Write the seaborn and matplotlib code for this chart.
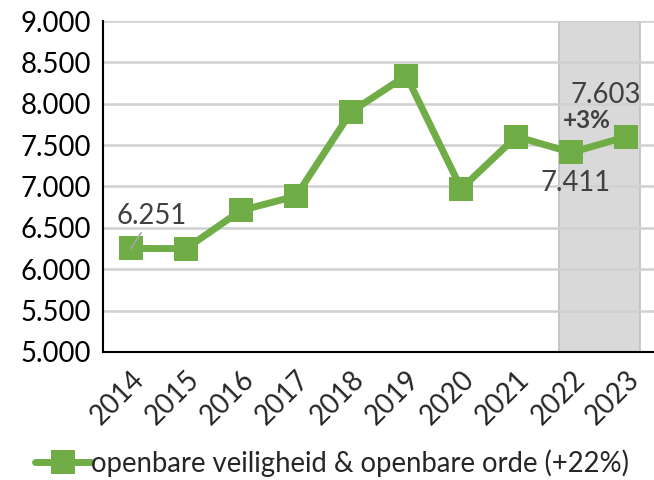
import matplotlib
matplotlib.use("Agg")
import matplotlib.pyplot as plt
import seaborn as sns
import pandas as pd
import numpy as np

years = ["2014", "2015", "2016", "2017", "2018", "2019", "2020", "2021", "2022", "2023"]
values = [6251, 6248, 6710, 6884, 7904, 8341, 6973, 7604, 7411, 7603]
series_name = "openbare veiligheid & openbare orde (+22%)"
yticks = [5000, 5500, 6000, 6500, 7000, 7500, 8000, 8500, 9000]

sns.set_style("white")
plt.rcParams['font.family'] = ['Lato', 'DejaVu Sans']

GREEN = "#70AD47"
FS = 19.8
df = pd.DataFrame({"pos": np.arange(len(years)), "value": values, "serie": series_name})

fig = plt.figure(figsize=(6.54, 4.8), dpi=100)
ax = fig.add_axes([0.158, 0.267, 0.842, 0.689])

# shaded region
ax.axvspan(7.78, 9.24, ymin=0, ymax=1, facecolor="#D9D9D9", edgecolor="#BFBFBF", lw=1.2, zorder=0)

sns.lineplot(data=df, x="pos", y="value", hue="serie", palette=[GREEN], marker="s",
             markersize=17.5, markeredgewidth=0, linewidth=5, ax=ax, zorder=3)

ax.set_xlim(-0.5, len(years) - 0.5)
ax.set_ylim(5000, 9000)
ax.set_yticks(yticks)
ax.set_yticklabels([f"{v/1000:.3f}" for v in yticks], fontsize=FS, color="black")
ax.yaxis.grid(True, color="#D0D0D0", lw=1.8)
ax.set_axisbelow(True)

ax.set_xticks(np.arange(len(years)))
ax.set_xticklabels(years, rotation=45, ha="right", va="top", rotation_mode="anchor", fontsize=FS)
ax.set_xticks(np.arange(len(years) + 1) - 0.5, minor=True)
ax.tick_params(axis="x", which="major", length=0, pad=10)
ax.tick_params(axis="x", which="minor", length=8, width=1.5, color="black", direction="out")
ax.tick_params(axis="y", length=6, width=1.5, color="black", direction="out", pad=3)
ax.set_xlabel("")
ax.set_ylabel("")

for s in ["top", "right"]:
    ax.spines[s].set_visible(False)
for s in ["left", "bottom"]:
    ax.spines[s].set_color("black")
    ax.spines[s].set_linewidth(1.5)

lbl = "#404040"
ax.annotate(f"{values[0]/1000:.3f}", xy=(0, values[0]), xytext=(15, 23), textcoords="offset points",
            ha="center", va="center", fontsize=FS, color=lbl,
            arrowprops=dict(arrowstyle="-", color="#A6A6A6", lw=1.2, shrinkA=0, shrinkB=0),
            zorder=5)
ax.annotate(f"{values[8]/1000:.3f}", xy=(8, values[8]), xytext=(3, -22), textcoords="offset points",
            ha="center", va="center", fontsize=FS, color=lbl, zorder=5)
ax.annotate(f"{values[9]/1000:.3f}", xy=(9, values[9]), xytext=(-15, 30), textcoords="offset points",
            ha="center", va="center", fontsize=FS, color=lbl, zorder=5, annotation_clip=False)
ax.annotate("+3%", xy=(8.5, (values[8] + values[9]) / 2), xytext=(-9, 17), textcoords="offset points",
            ha="center", va="center", fontsize=17.5, fontweight="bold", color=lbl, zorder=5)

handles, labels = ax.get_legend_handles_labels()
ax.get_legend().remove()
fig.legend(handles, labels, loc="center", bbox_to_anchor=(0.508, 0.036), frameon=False,
           fontsize=FS, handlelength=2.05, handletextpad=0.0, borderaxespad=0)

fig.savefig("out.png", dpi=100)
